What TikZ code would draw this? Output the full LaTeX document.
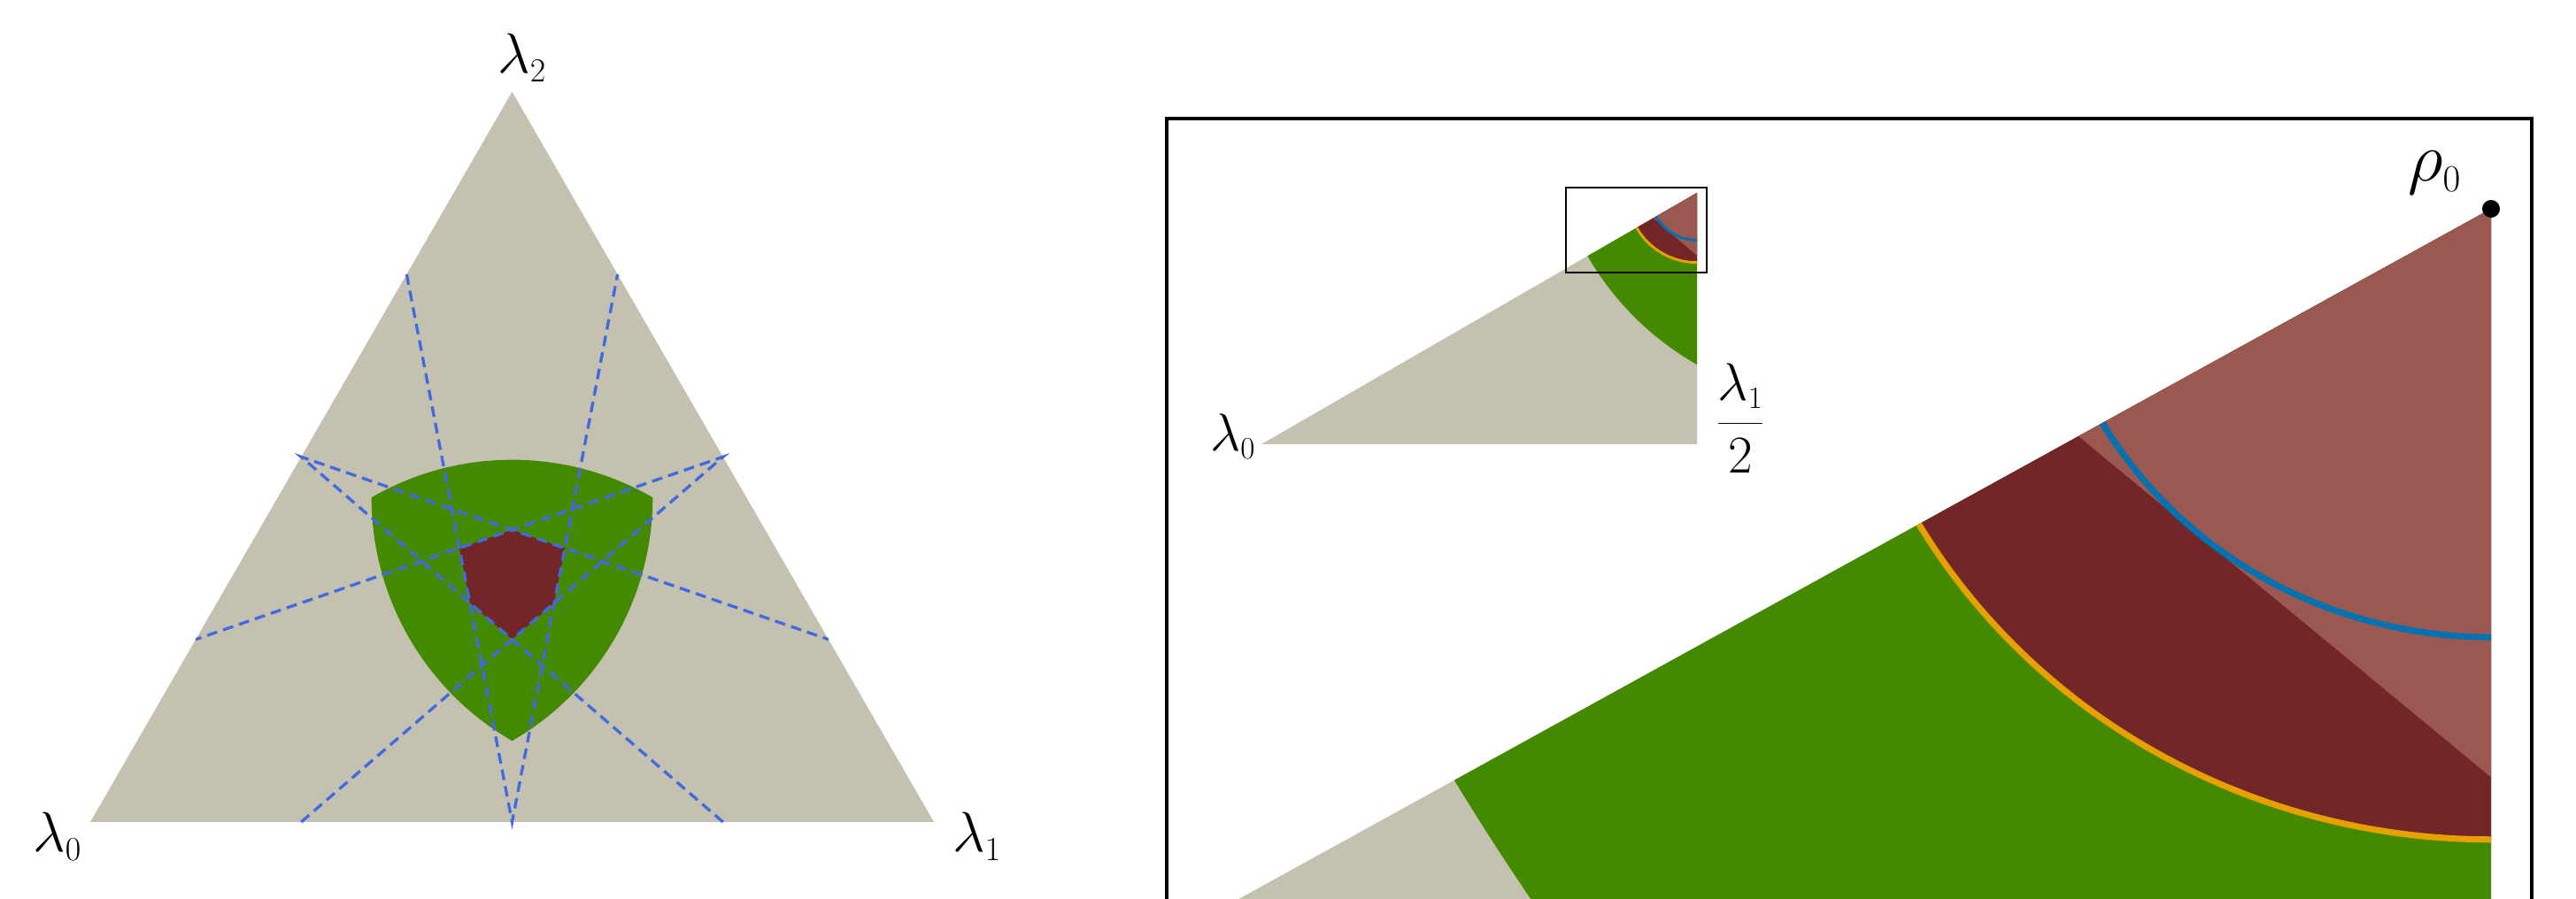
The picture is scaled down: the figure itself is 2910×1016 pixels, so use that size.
\RequirePackage{fix-cm}
\documentclass[tikz,border=0pt]{standalone}
\DeclareMathSizes{64}{64}{38}{30}
\DeclareMathSizes{60}{60}{35}{28}
\DeclareMathSizes{78}{78}{43}{34}
\definecolor{gry}{HTML}{C4C1B0}
\definecolor{grn}{HTML}{448A00}
\definecolor{drd}{HTML}{722628}
\definecolor{lrd}{HTML}{9B5850}
\definecolor{dsh}{HTML}{4169E1}
\definecolor{org}{HTML}{E6A000}
\definecolor{blu}{HTML}{0072B2}
\tikzset{
  lbl/.style={inner sep=0pt, anchor=base west, font=\fontsize{64}{72}\selectfont},
  ilbl/.style={inner sep=0pt, font=\fontsize{60}{68}\selectfont},
  dline/.style={dsh, line width=3.3pt, dash pattern=on 12pt off 7pt},
  frame/.style={line width=4.7pt},
}
\begin{document}
\begin{tikzpicture}
\useasboundingbox (0pt,0pt) rectangle (2910pt,1016pt);

% ---------------- left: full simplex ----------------
\begin{scope}[shift={(102pt,87pt)}, x=953pt, y=953pt]
  \fill[gry] (0,0) -- (1,0) -- (0.5,0.866025) -- cycle;
  \fill[grn] (0.333333,0.384900)
     arc[start angle=120, end angle=60, radius=0.333333]
     arc[start angle=0, end angle=-60, radius=0.333333]
     arc[start angle=240, end angle=180, radius=0.333333] -- cycle;
  \fill[drd] (0.5,0.346410) -- (0.5625,0.324760) -- (0.55,0.259808)
     -- (0.5,0.216506) -- (0.45,0.259808) -- (0.4375,0.324760) -- cycle;
  \draw[dline] (0.375,0.649519) -- (0.5,0) -- (0.625,0.649519);
  \draw[dline] (0.75,0) -- (0.25,0.433013) -- (0.875,0.216506);
  \draw[dline] (0.25,0) -- (0.75,0.433013) -- (0.125,0.216506);
\end{scope}
\node[lbl] (l2) at (562pt,933pt) {$\lambda_2$};
\node[lbl] (l0) at (37pt,53pt) {$\lambda_0$};
\node[lbl] (l1) at (1076pt,53pt) {$\lambda_1$};

% ---------------- right: zoomed view ----------------
\begin{scope}
  \clip (1318pt,0pt) rectangle (2860pt,882pt);
  \begin{scope}[shift={(2814pt,780pt)}, x=9320pt, y=8900pt]
    \fill[gry] (0,0) -- (-0.5,-0.288675) -- (0,-0.288675) -- cycle;
    \begin{scope}
      \clip (0,0) -- (-0.5,-0.288675) -- (0,-0.288675) -- cycle;
      \fill[grn] (0.166667,0.096225) circle[radius=0.3375];
      \fill[drd] (0,0) circle[radius=0.0801];
    \end{scope}
    \fill[lrd] (0,0) -- (-0.05,-0.028868) -- (0,-0.072169) -- cycle;
    \draw[org, line width=7pt] (210:0.0801) arc[start angle=210, end angle=270, radius=0.0801];
    \draw[blu, line width=7pt] (210:0.0544) arc[start angle=210, end angle=270, radius=0.0544];
  \end{scope}
\end{scope}
\draw[frame] (1318pt,-20pt) -- (1318pt,882pt) -- (2860pt,882pt) -- (2860pt,-20pt);
\node[circle, fill=black, inner sep=0pt, minimum size=20pt] (rho) at (2814pt,780pt) {};
\node[inner sep=0pt, anchor=base west, font=\fontsize{78}{86}\selectfont] (rholbl) at (2720pt,811pt) {$\rho_0$};

% ---------------- inset: fundamental domain ----------------
\begin{scope}[shift={(1425pt,514pt)}, x=984pt, y=984pt]
  \fill[gry] (0,0) -- (0.5,0) -- (0.5,0.288675) -- cycle;
  \begin{scope}
    \clip (0,0) -- (0.5,0) -- (0.5,0.288675) -- cycle;
    \fill[grn] (0.666667,0.384900) circle[radius=0.3375];
    \fill[drd] (0.5,0.288675) circle[radius=0.0801];
  \end{scope}
  \fill[lrd] (0.5,0.288675) -- (0.45,0.259808) -- (0.5,0.216506) -- cycle;
  \begin{scope}[shift={(0.5,0.288675)}]
    \draw[org, line width=3pt] (210:0.0801) arc[start angle=210, end angle=270, radius=0.0801];
    \draw[blu, line width=3pt] (210:0.0544) arc[start angle=210, end angle=270, radius=0.0544];
  \end{scope}
\end{scope}
\draw[line width=2.7pt] (1769pt,708pt) rectangle (1928pt,804pt);
\node[ilbl, anchor=base west] (il0) at (1367pt,506pt) {$\lambda_0$};
\node[ilbl, anchor=base] (ihalf) at (1966pt,523pt) {$\displaystyle\frac{\lambda_1}{2}$};
\end{tikzpicture}
\end{document}
